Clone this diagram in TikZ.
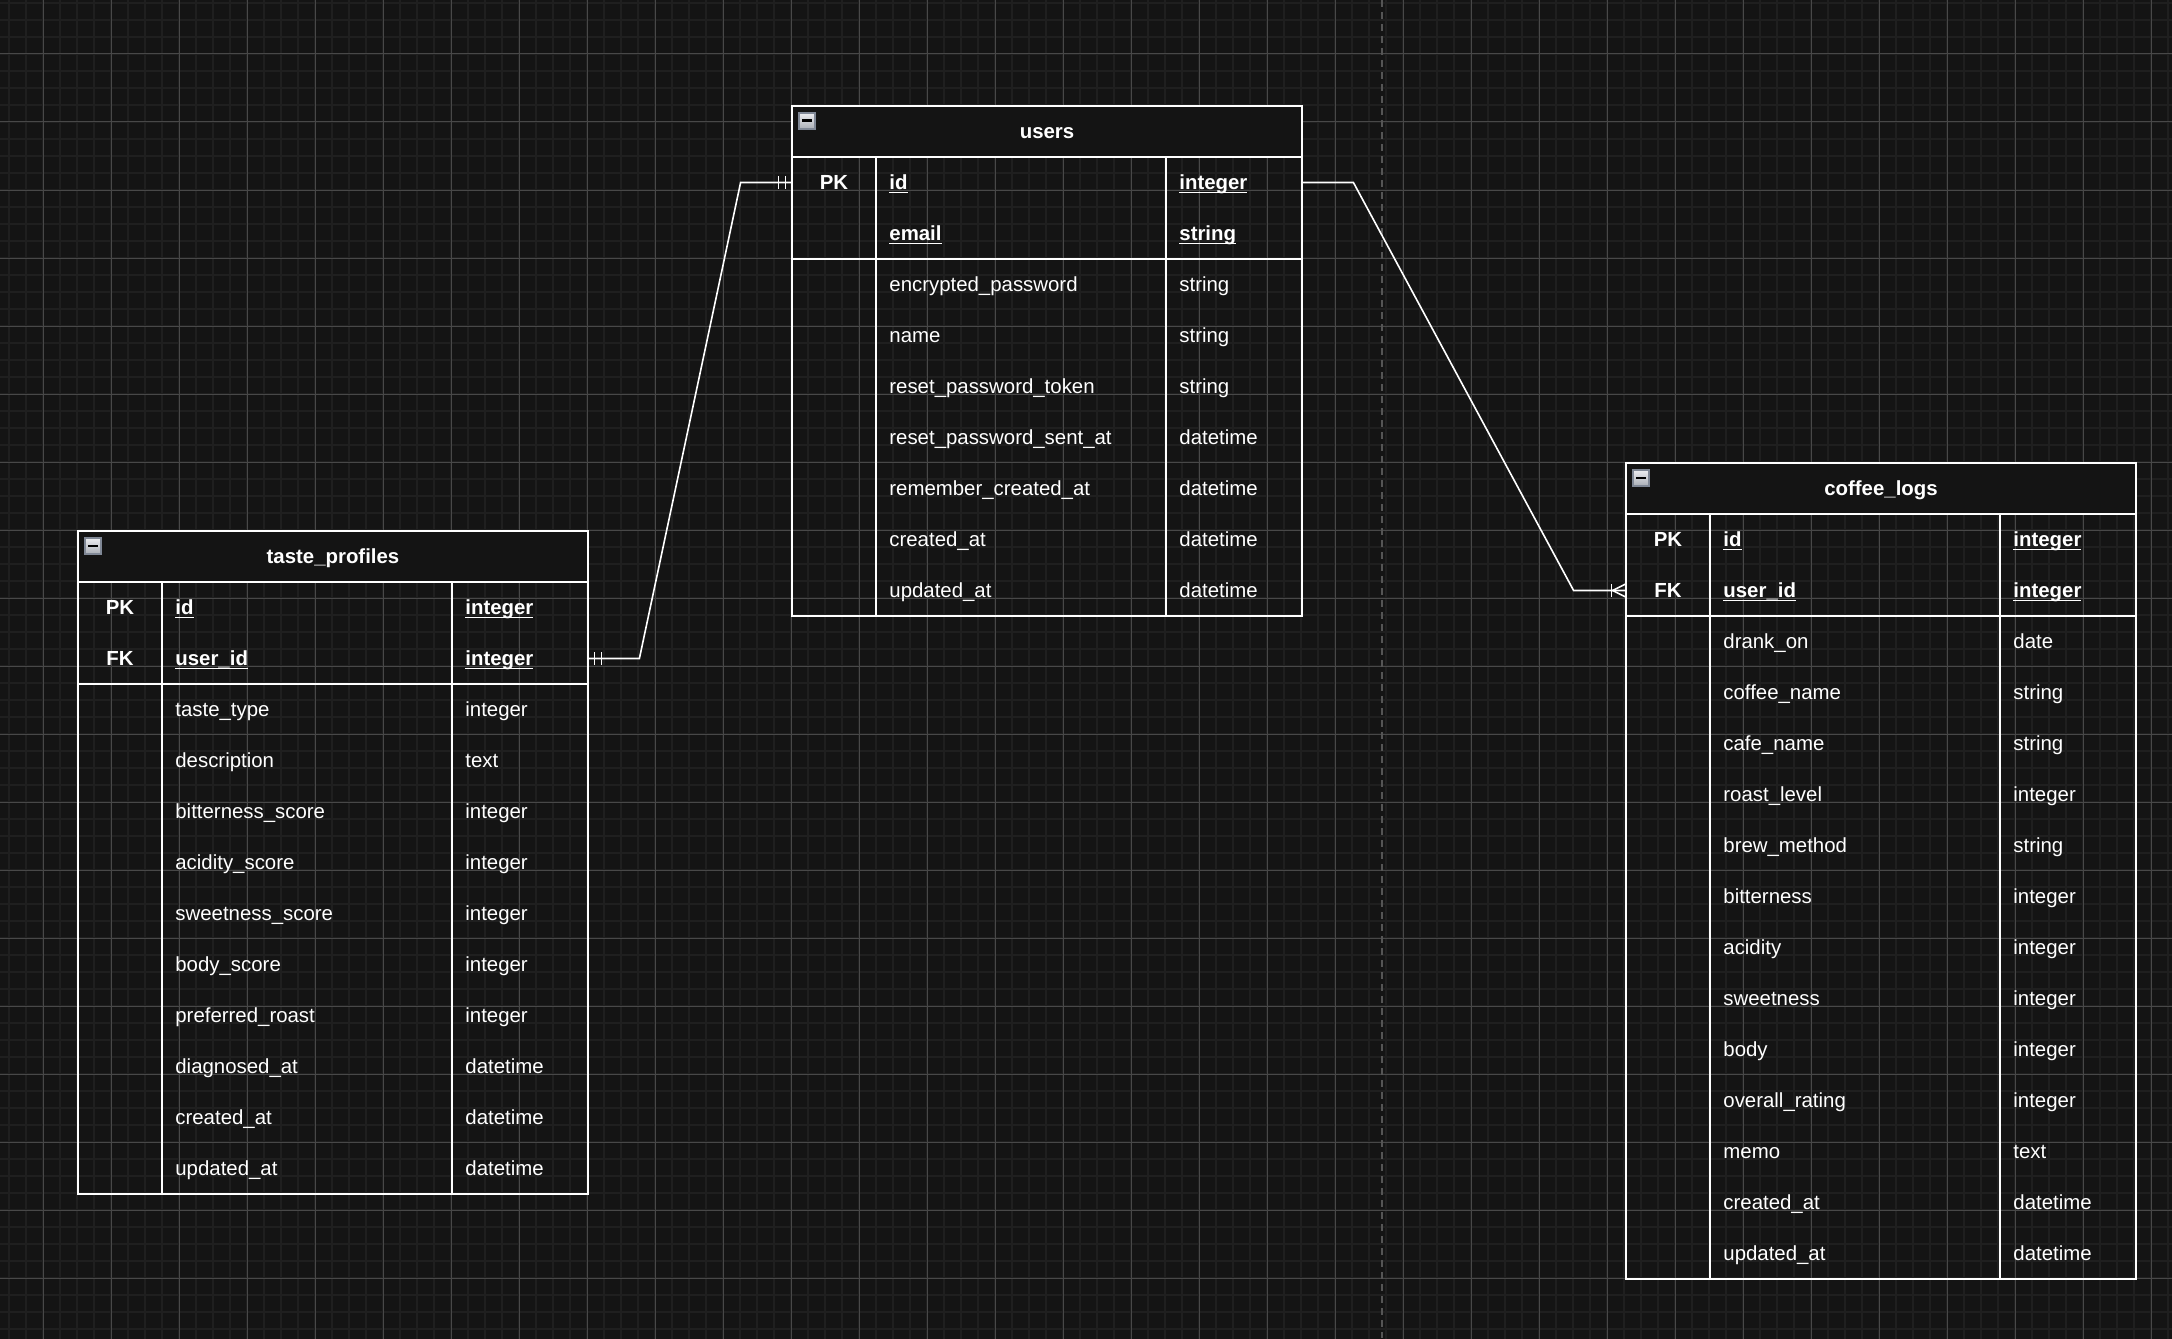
\documentclass[tikz,border=0pt]{standalone}
\usepackage{fontspec}
\setmainfont{Liberation Sans}
\usepackage{tikz}
\usetikzlibrary{calc}
\definecolor{canvas}{RGB}{20,20,20}
\definecolor{gridminor}{RGB}{31,31,31}
\definecolor{gridmajor}{RGB}{72,72,72}
\definecolor{guidegray}{RGB}{85,85,85}
\definecolor{btnlight}{RGB}{236,237,240}
\definecolor{btndark}{RGB}{170,174,182}
\newcommand{\keyul}[1]{\setbox0\hbox{#1}\rlap{\rule[-1.7pt]{\wd0}{0.6pt}}\box0}
\tikzset{
  erfont/.style={font=\fontsize{10.2}{12}\selectfont, text=white, inner sep=0pt},
  erbold/.style={font=\fontsize{10.2}{12}\selectfont\bfseries, text=white, inner sep=0pt},
  tbltitle/.style={erbold, anchor=base},
  keytag/.style={erbold, anchor=base},
  keyfield/.style={erbold, anchor=base west},
  fieldtxt/.style={erfont, anchor=base west},
  rowslot/.style={minimum width=255pt, minimum height=25.5pt, inner sep=0pt},
  tblframe/.style={draw=white, line width=1pt},
  hdrfill/.style={fill=canvas},
  collapsebtn/.style={draw={rgb,255:red,128;green,136;blue,150}, line width=0.6pt, top color=btnlight, bottom color=btndark},
  minorline/.style={draw=gridminor, line width=1pt},
  majorline/.style={draw=gridmajor, line width=0.5pt},
  guide/.style={draw=guidegray, line width=1pt, dash pattern=on 3.5pt off 2.5pt},
  relline/.style={draw=white, line width=0.8pt}
}

\begin{document}
\begin{tikzpicture}[x=0.5pt, y=-0.5pt]
  \useasboundingbox (0,0) rectangle (2172,1338);
  % Canvas and grid
  \fill[canvas] (-10,-10) rectangle (2182,1348);
  \foreach \x in {9,26,...,2172} \draw[minorline] (\x,-5) -- (\x,1343);
  \foreach \y in {3,20,...,1338} \draw[minorline] (-5,\y) -- (2177,\y);
  \foreach \x in {43,111,...,2172} \draw[majorline] (\x,-5) -- (\x,1343);
  \foreach \y in {54,122,...,1338} \draw[majorline] (-5,\y) -- (2177,\y);

  % Page break guide
  \draw[guide] (1382,0) -- (1382,1338);

  % users
  \begin{scope}[shift={(792,106)}]
    \fill[hdrfill] (0,0) rectangle (510,51);
    \draw[tblframe] (0,0) rectangle (510,510);
    \draw[tblframe] (0,51) -- (510,51) (0,153) -- (510,153)
      (84,51) -- (84,510) (374,51) -- (374,510);
    \shade[collapsebtn] (7,7) rectangle (23,23);
    \fill[black] (10,13.5) rectangle (20,16);
    \node[tbltitle] (users) at (255,32.5) {users};
    \node[rowslot] (users-id) at (255,76.5) {};
    \node[keytag] at (42,83.5) {PK};
    \node[keyfield] at (97,83.5) {\keyul{id}};
    \node[keyfield] at (387,83.5) {\keyul{integer}};
    \node[rowslot] (users-email) at (255,127.5) {};
    \node[keyfield] at (97,134.5) {\keyul{email}};
    \node[keyfield] at (387,134.5) {\keyul{string}};
    \foreach \fname/\ftype [count=\i from 0] in {
        encrypted\_password/string, name/string, reset\_password\_token/string,
        reset\_password\_sent\_at/datetime, remember\_created\_at/datetime,
        created\_at/datetime, updated\_at/datetime} {
      \node[fieldtxt] at (97,{185.5+51*\i}) {\fname};
      \node[fieldtxt] at (387,{185.5+51*\i}) {\ftype};
    }
  \end{scope}

  % taste_profiles
  \begin{scope}[shift={(78,531)}]
    \fill[hdrfill] (0,0) rectangle (510,51);
    \draw[tblframe] (0,0) rectangle (510,663);
    \draw[tblframe] (0,51) -- (510,51) (0,153) -- (510,153)
      (84,51) -- (84,663) (374,51) -- (374,663);
    \shade[collapsebtn] (7,7) rectangle (23,23);
    \fill[black] (10,13.5) rectangle (20,16);
    \node[tbltitle] (tp) at (255,32.5) {taste\_profiles};
    \node[rowslot] (tp-id) at (255,76.5) {};
    \node[keytag] at (42,83.5) {PK};
    \node[keyfield] at (97,83.5) {\keyul{id}};
    \node[keyfield] at (387,83.5) {\keyul{integer}};
    \node[rowslot] (tp-userid) at (255,127.5) {};
    \node[keytag] at (42,134.5) {FK};
    \node[keyfield] at (97,134.5) {\keyul{user\_id}};
    \node[keyfield] at (387,134.5) {\keyul{integer}};
    \foreach \fname/\ftype [count=\i from 0] in {
        taste\_type/integer, description/text, bitterness\_score/integer,
        acidity\_score/integer, sweetness\_score/integer, body\_score/integer,
        preferred\_roast/integer, diagnosed\_at/datetime, created\_at/datetime,
        updated\_at/datetime} {
      \node[fieldtxt] at (97,{185.5+51*\i}) {\fname};
      \node[fieldtxt] at (387,{185.5+51*\i}) {\ftype};
    }
  \end{scope}

  % coffee_logs
  \begin{scope}[shift={(1626,463)}]
    \fill[hdrfill] (0,0) rectangle (510,51);
    \draw[tblframe] (0,0) rectangle (510,816);
    \draw[tblframe] (0,51) -- (510,51) (0,153) -- (510,153)
      (84,51) -- (84,816) (374,51) -- (374,816);
    \shade[collapsebtn] (7,7) rectangle (23,23);
    \fill[black] (10,13.5) rectangle (20,16);
    \node[tbltitle] (cl) at (255,32.5) {coffee\_logs};
    \node[rowslot] (cl-id) at (255,76.5) {};
    \node[keytag] at (42,83.5) {PK};
    \node[keyfield] at (97,83.5) {\keyul{id}};
    \node[keyfield] at (387,83.5) {\keyul{integer}};
    \node[rowslot] (cl-userid) at (255,127.5) {};
    \node[keytag] at (42,134.5) {FK};
    \node[keyfield] at (97,134.5) {\keyul{user\_id}};
    \node[keyfield] at (387,134.5) {\keyul{integer}};
    \foreach \fname/\ftype [count=\i from 0] in {
        drank\_on/date, coffee\_name/string, cafe\_name/string,
        roast\_level/integer, brew\_method/string, bitterness/integer,
        acidity/integer, sweetness/integer, body/integer,
        overall\_rating/integer, memo/text, created\_at/datetime,
        updated\_at/datetime} {
      \node[fieldtxt] at (97,{185.5+51*\i}) {\fname};
      \node[fieldtxt] at (387,{185.5+51*\i}) {\ftype};
    }
  \end{scope}

  % Relations
  \draw[relline] (tp-userid.east) -- ++(51,0) -- ($(users-id.west)+(-51,0)$) -- (users-id.west);
  \draw[relline] ($(tp-userid.east)+(6,-6.5)$) -- ++(0,13);
  \draw[relline] ($(tp-userid.east)+(13,-6.5)$) -- ++(0,13);
  \draw[relline] ($(users-id.west)+(-6,-6.5)$) -- ++(0,13);
  \draw[relline] ($(users-id.west)+(-13,-6.5)$) -- ++(0,13);

  \draw[relline] (users-id.east) -- ++(51,0) -- ($(cl-userid.west)+(-52,0)$) -- (cl-userid.west);
  \draw[relline] ($(cl-userid.west)+(-14,-6.5)$) -- ++(0,13);
  \draw[relline] ($(cl-userid.west)+(0,-6.5)$) -- ($(cl-userid.west)+(-13,0)$) -- ($(cl-userid.west)+(0,6.5)$);
\end{tikzpicture}
\end{document}
